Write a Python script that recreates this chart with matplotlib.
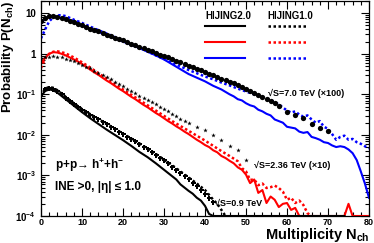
import numpy as np
import matplotlib
matplotlib.use('Agg')
from matplotlib import pyplot as plt
from matplotlib.lines import Line2D
from matplotlib.ticker import FixedLocator, FixedFormatter, MultipleLocator, LogLocator, NullFormatter

plt.rcParams['font.family'] = ['Liberation Sans', 'DejaVu Sans']
plt.rcParams['font.weight'] = 'bold'
plt.rcParams['mathtext.fontset'] = 'custom'
plt.rcParams['mathtext.rm'] = 'Liberation Sans:bold'
plt.rcParams['mathtext.bf'] = 'Liberation Sans:bold'
plt.rcParams['mathtext.it'] = 'Liberation Sans:bold'

YMIN, YMAX = 1e-4, 20

# ---- sqrt(s) = 7.0 TeV (x100), values as log10 P ----
n_data7 = list(range(0, 59)) + [60, 62, 64, 66, 68, 70]
logp_data7 = [0.82, 0.88, 0.92, 0.93, 0.91, 0.88, 0.85, 0.82, 0.78, 0.74,
              0.70, 0.66, 0.62, 0.59, 0.55, 0.51, 0.47, 0.44, 0.40, 0.36,
              0.33, 0.29, 0.25, 0.21, 0.17, 0.14, 0.10, 0.06, 0.02, -0.02,
              -0.05, -0.09, -0.13, -0.17, -0.21, -0.25, -0.29, -0.33, -0.37, -0.41,
              -0.45, -0.49, -0.53, -0.57, -0.61, -0.65, -0.69, -0.73, -0.78, -0.82,
              -0.87, -0.92, -0.97, -1.02, -1.07, -1.12, -1.17, -1.22, -1.30,
              -1.44, -1.51, -1.58, -1.72, -1.82, -1.91]

n_h2_7 = [0, 1, 2, 3, 4, 5, 6] + list(range(8, 45, 2)) + list(range(45, 81))
logp_h2_7 = [0.75, 0.86, 0.92, 0.93, 0.91, 0.88, 0.85,
             0.78, 0.70, 0.62, 0.54, 0.46, 0.38, 0.30, 0.22, 0.14, 0.05,
             -0.04, -0.14, -0.26, -0.38, -0.50, -0.59, -0.68, -0.79, -0.88,
             -0.94, -1.00, -1.05, -1.12, -1.15, -1.22, -1.27, -1.30, -1.38, -1.42,
             -1.48, -1.52, -1.62, -1.66, -1.70, -1.80, -1.82, -1.84, -1.92, -1.95,
             -1.93, -2.05, -2.08, -2.12, -2.18, -2.20, -2.26, -2.30, -2.28, -2.30,
             -2.36, -2.45, -2.62, -2.90, -3.20, -3.55]

n_h1_7 = [0, 1, 2, 3, 4, 5, 6] + list(range(8, 59, 2)) + list(range(60, 81))
logp_h1_7 = [0.38, 0.60, 0.80, 0.90, 0.95, 0.95, 0.93,
             0.84, 0.76, 0.67, 0.58, 0.50, 0.41, 0.33, 0.24, 0.15, 0.06,
             -0.04, -0.13, -0.22, -0.31, -0.40, -0.48, -0.56, -0.63, -0.71, -0.78,
             -0.86, -0.93, -1.00, -1.07, -1.14, -1.25,
             -1.40, -1.45, -1.42, -1.50, -1.55, -1.52, -1.62, -1.70, -1.66, -1.80,
             -1.85, -1.98, -2.12, -2.05, -2.02, -2.12, -2.10, -2.18, -2.22, -2.28, -2.33]

# ---- sqrt(s) = 2.36 TeV (x10) ----
n_data236 = list(range(0, 37)) + [38, 40, 42, 44, 46, 48, 50]
logp_data236 = [-0.10, -0.09, -0.07, -0.06, -0.07, -0.09, -0.12, -0.15, -0.19, -0.23,
                -0.27, -0.32, -0.36, -0.42, -0.47, -0.52, -0.58, -0.63, -0.69, -0.74,
                -0.80, -0.86, -0.92, -0.97, -1.03, -1.08, -1.14, -1.20, -1.25, -1.31,
                -1.37, -1.42, -1.48, -1.54, -1.60, -1.65, -1.71,
                -1.80, -1.88, -2.00, -2.12, -2.28, -2.38, -2.62]

n_h2_236 = list(range(0, 81))
logp_h2_236 = [-0.25, -0.10, 0.00, 0.04, 0.03, 0.00, -0.04, -0.09, -0.14, -0.19,
               -0.25, -0.32, -0.39, -0.46, -0.52, -0.59, -0.66, -0.72, -0.79, -0.86,
               -0.92, -0.99, -1.06, -1.12, -1.19, -1.26, -1.32, -1.39, -1.46, -1.52,
               -1.59, -1.66, -1.72, -1.79, -1.85, -1.92, -1.98, -2.05, -2.12, -2.18,
               -2.25, -2.30, -2.38, -2.43, -2.52, -2.57, -2.64, -2.70, -2.80, -2.86,
               -2.98, -3.19, -3.10, -3.43, -3.36, -3.68, -3.52, -3.60, -3.78, -3.70,
               -3.68, -3.85, -3.80, None, None, None, None, None, None, None,
               None, None, None, None, None, -3.70, None, None, None, None, None]

n_h1_236 = [0, 1, 2, 3, 4, 5, 6] + list(range(8, 47, 2)) + list(range(48, 67))
logp_h1_236 = [-0.35, -0.12, 0.00, 0.05, 0.06, 0.04, 0.01,
               -0.09, -0.21, -0.34, -0.48, -0.61, -0.75, -0.88, -1.01, -1.14, -1.27,
               -1.40, -1.53, -1.66, -1.78, -1.90, -2.02, -2.14, -2.27, -2.40, -2.52,
               -2.65, -2.82, -2.90, -3.11, -3.10, -3.24, -3.20, -3.31, -3.29, -3.25,
               -3.31, -3.40, -3.60, -3.55, -3.68, -3.62, -3.73, -3.93, -4.30]

# ---- sqrt(s) = 0.9 TeV ----
n_data09 = list(range(0, 43))
logp_data09 = [-1.00, -0.88, -0.84, -0.86, -0.92, -1.00, -1.08, -1.16, -1.24, -1.31,
               -1.38, -1.44, -1.50, -1.56, -1.62, -1.68, -1.74, -1.80, -1.86, -1.92,
               -1.98, -2.04, -2.10, -2.16, -2.22, -2.29, -2.36, -2.42, -2.49, -2.56,
               -2.63, -2.70, -2.78, -2.86, -2.94, -3.02, -3.10, -3.18, -3.27, -3.36,
               -3.45, -3.55, -3.65]

n_h2_09 = [0, 1, 2, 3, 4, 5, 6] + list(range(8, 31, 2)) + list(range(31, 75))
logp_h2_09 = [-1.05, -0.92, -0.88, -0.90, -0.96, -1.04, -1.12,
              -1.28, -1.44, -1.59, -1.73, -1.87, -2.00, -2.13, -2.27, -2.42, -2.55,
              -2.70, -2.86,
              -2.94, -3.02, -3.10, -3.22, -3.30, -3.38, -3.45, -3.55, -3.62, -3.75, -3.95] + [None] * 33

n_h1_09 = [0, 1, 2, 3, 4, 5, 6] + list(range(8, 41, 2)) + [41, 42, 43, 44, 45]
logp_h1_09 = [-1.05, -0.86, -0.82, -0.84, -0.90, -0.98, -1.06,
              -1.22, -1.36, -1.49, -1.61, -1.73, -1.85, -1.97, -2.09, -2.21, -2.34,
              -2.47, -2.61, -2.75, -2.90, -3.05, -3.20, -3.36,
              -3.48, -3.60, -3.70, -3.85, -4.10]


def prob(logs):
    # empty bins (None) are drawn on the lower frame edge, like the original
    p = np.array([0.0 if v is None else 10.0 ** v for v in logs])
    return np.clip(p, YMIN, None)


fig = plt.figure(figsize=(3.74, 2.43), dpi=100)
ax = fig.add_axes([41 / 374, 1 - 216 / 243, 328 / 374, 215 / 243])
ax.set_yscale('log')

lw = 1.5
dot = (0, (1, 1))

ax.plot(n_h1_7, prob(logp_h1_7), color='blue', lw=lw + 0.3, ls=dot)
ax.plot(n_h2_7, prob(logp_h2_7), color='blue', lw=lw)
ax.plot(n_data7, prob(logp_data7), 'o', color='black', ms=3.8, mew=0)

ax.plot(n_h1_236, prob(logp_h1_236), color='red', lw=lw + 0.3, ls=dot)
ax.plot(n_h2_236, prob(logp_h2_236), color='red', lw=lw)
ax.plot(n_data236, prob(logp_data236), '*', color='black', ms=3.4, mew=0)

ax.plot(n_h1_09, prob(logp_h1_09), color='black', lw=lw + 0.3, ls=dot)
ax.plot(n_h2_09, prob(logp_h2_09), color='black', lw=lw)
ax.plot(n_data09, prob(logp_data09), 'P', color='black', ms=3.6, mew=0)

ax.set_xlim(0, 80)
ax.set_ylim(YMIN, YMAX)

ax.xaxis.set_major_locator(MultipleLocator(10))
ax.xaxis.set_minor_locator(MultipleLocator(2))
ax.yaxis.set_major_locator(FixedLocator([1e-4, 1e-3, 1e-2, 1e-1, 1, 10]))
ax.yaxis.set_major_formatter(FixedFormatter([r'$10^{-4}$', r'$10^{-3}$', r'$10^{-2}$',
                                             r'$10^{-1}$', '1', '10']))
ax.yaxis.set_minor_locator(LogLocator(base=10, subs=np.arange(2, 10), numticks=20))
ax.yaxis.set_minor_formatter(NullFormatter())
ax.tick_params(which='both', direction='in', top=True, right=True, width=0.8)
ax.tick_params(which='major', length=6)
ax.tick_params(which='minor', length=3)
ax.tick_params(axis='x', labelsize=6.5, pad=1.5)
ax.tick_params(axis='y', labelsize=7, pad=3.5)
for s in ax.spines.values():
    s.set_linewidth(0.9)

fig.text(0.0, 0.997, r'Probability P(N$_{\rm ch}$)', rotation=90, ha='left', va='top', fontsize=9.5)
fig.text(370 / 374, 1 - 235 / 243, r'Multiplicity N$_{\rm ch}$', ha='right', va='center', fontsize=10.5)

# legend: two columns of line samples, headers as text
handles = [Line2D([], [], color='black', lw=lw), Line2D([], [], color='red', lw=lw),
           Line2D([], [], color='blue', lw=lw),
           Line2D([], [], color='black', lw=lw + 0.3, ls=dot), Line2D([], [], color='red', lw=lw + 0.3, ls=dot),
           Line2D([], [], color='blue', lw=lw + 0.3, ls=dot)]
ax.legend(handles, [''] * 6, ncol=2, frameon=False, fontsize=5, handlelength=5.8,
          handletextpad=0, columnspacing=3.2, labelspacing=1.35,
          loc='upper left', bbox_to_anchor=((205 - 41) / 328, 1 - 22 / 215), borderaxespad=0, borderpad=0)
ax.text(40, 8.4, 'HIJING2.0', fontsize=7, va='center', ha='left')
ax.text(55.1, 8.4, 'HIJING1.0', fontsize=7, va='center', ha='left')

ax.text(55.4, 0.107, '√S=7.0 TeV (×100)', fontsize=6.5, va='center', ha='left')
ax.text(51.9, 1.8e-3, '√S=2.36 TeV (×10)', fontsize=6.5, va='center', ha='left')
ax.text(42.4, 2.0e-4, '√S=0.9 TeV', fontsize=6.5, va='center', ha='left')
ax.text(3.4, 1.8e-3, r'p+p→ h$^{+}$+h$^{-}$', fontsize=8.5, va='center', ha='left')
ax.text(3.4, 5.1e-4, 'INE >0, |η| ≤ 1.0', fontsize=8.5, va='center', ha='left')

fig.savefig('out.png', dpi=100)
